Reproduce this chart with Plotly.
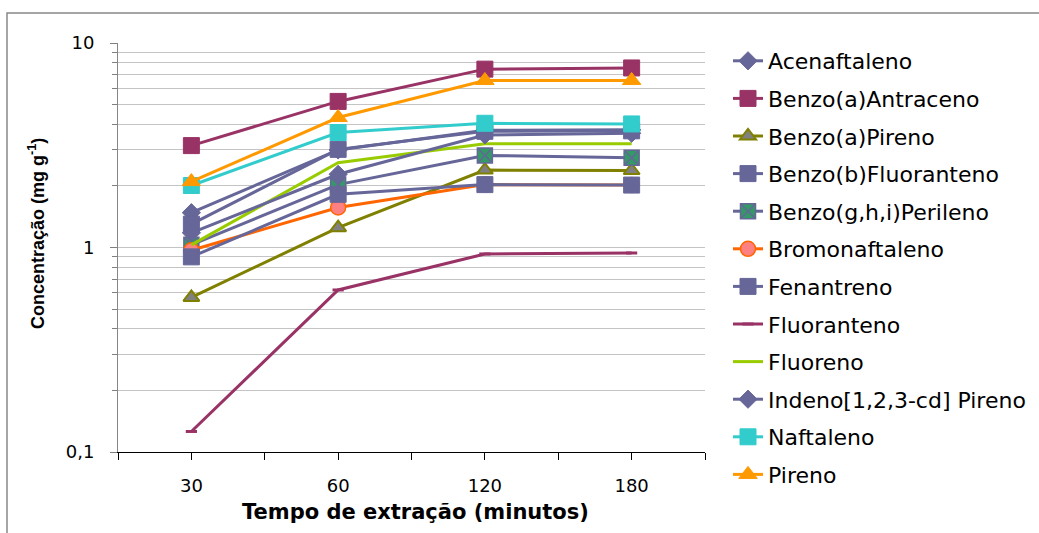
import plotly.graph_objects as go

categories = ["30", "60", "120", "180"]

acenaftaleno = [1.48, 3.00, 3.74, 3.76]
benzo_a_antraceno = [3.15, 5.18, 7.45, 7.55]
benzo_a_pireno = [0.57, 1.25, 2.39, 2.38]
benzo_b_fluoranteno = [1.30, 3.02, 3.70, 3.72]
benzo_ghi_perileno = [1.03, 2.03, 2.82, 2.75]
bromonaftaleno = [0.97, 1.57, 2.03, 2.02]
fenantreno = [0.90, 1.82, 2.03, 2.02]
fluoranteno = [0.126, 0.62, 0.93, 0.94]
fluoreno = [1.03, 2.60, 3.22, 3.22]
indeno = [1.18, 2.28, 3.55, 3.62]
naftaleno = [2.01, 3.65, 4.05, 4.02]
pireno = [2.10, 4.32, 6.56, 6.56]

xs = list(range(len(categories)))

PURPLE = "#666699"
series = [
    ("Acenaftaleno", acenaftaleno, PURPLE, dict(symbol="diamond", size=14, color=PURPLE, line=dict(color=PURPLE, width=1))),
    ("Benzo(a)Antraceno", benzo_a_antraceno, "#993366", dict(symbol="square", size=16, color="#993366", line=dict(color="#993366", width=1))),
    ("Benzo(a)Pireno", benzo_a_pireno, "#808000", dict(symbol="triangle-up", size=14, color="#808080", line=dict(color="#808000", width=2))),
    ("Benzo(b)Fluoranteno", benzo_b_fluoranteno, PURPLE, dict(symbol="square", size=16, color=PURPLE, line=dict(color=PURPLE, width=1))),
    ("Benzo(g,h,i)Perileno", benzo_ghi_perileno, PURPLE, dict(symbol="square-x", size=15, color="#339966", line=dict(color=PURPLE, width=1.5))),
    ("Bromonaftaleno", bromonaftaleno, "#FF6600", dict(symbol="circle", size=15, color="#FF8080", line=dict(color="#FF6600", width=1.5))),
    ("Fenantreno", fenantreno, PURPLE, dict(symbol="square", size=16, color=PURPLE, line=dict(color=PURPLE, width=1))),
    ("Fluoranteno", fluoranteno, "#993366", dict(symbol="line-ew", size=8, color="#993366", line=dict(color="#993366", width=3))),
    ("Fluoreno", fluoreno, "#99CC00", None),
    ("Indeno[1,2,3-cd] Pireno", indeno, PURPLE, dict(symbol="diamond", size=14, color=PURPLE, line=dict(color=PURPLE, width=1))),
    ("Naftaleno", naftaleno, "#33CCCC", dict(symbol="square", size=16, color="#33CCCC", line=dict(color="#33CCCC", width=1))),
    ("Pireno", pireno, "#FF9900", dict(symbol="triangle-up", size=16, color="#FF9900", line=dict(color="#FF9900", width=1))),
]

fig = go.Figure()
for i, (name, vals, col, mk) in enumerate(series):
    kw = dict(x=xs, y=vals, name=name, legendgroup=f"g{i}",
              line=dict(color=col, width=3))
    if mk is None:
        kw["mode"] = "lines"
    else:
        kw["mode"] = "lines+markers"
        kw["marker"] = mk
    fig.add_trace(go.Scatter(**kw))

y_minor = [0.2, 0.3, 0.4, 0.5, 0.6, 0.7, 0.8, 0.9, 2, 3, 4, 5, 6, 7, 8, 9]
x_minor = [-0.5, 0.5, 1.5, 2.5, 3.5]

L, R, T, B = 118, 705, 43, 452
W, H = 1039, 533
pw, ph = R - L, B - T

def px(xp):
    return (xp - L) / pw

def py(yp):
    return (B - yp) / ph

fig.update_layout(
    width=W, height=H,
    margin=dict(l=L, r=W - R, t=T, b=H - B, autoexpand=False),
    paper_bgcolor="white", plot_bgcolor="white",
    font=dict(family="DejaVu Sans", color="black"),
    showlegend=True,
    legend=dict(x=px(728), y=py(40), xanchor="left", yanchor="top",
                font=dict(family="DejaVu Sans", size=22, color="black"),
                tracegroupgap=6, bgcolor="rgba(0,0,0,0)", maxheight=520),
    xaxis=dict(range=[-0.5, 3.5], tickvals=xs, ticktext=categories,
               ticks="outside", ticklen=7, tickcolor="black", tickwidth=1,
               showline=True, linecolor="black", linewidth=1,
               showgrid=False, zeroline=False,
               tickfont=dict(family="DejaVu Sans", size=18, color="black"),
               ticklabelstandoff=10,
               minor=dict(tickvals=x_minor, ticks="outside", ticklen=7,
                          tickcolor="black", tickwidth=1, showgrid=False)),
    yaxis=dict(type="log", range=[-1, 1], tickvals=[0.1, 1, 10],
               ticktext=["0,1", "1", "10"],
               ticks="outside", ticklen=7, tickcolor="#808080", tickwidth=1,
               showline=True, linecolor="#868686", linewidth=1,
               showgrid=True, gridcolor="#C4C4C4", gridwidth=1, zeroline=False,
               tickfont=dict(family="DejaVu Sans", size=18, color="black"),
               ticklabelstandoff=12,
               minor=dict(tickvals=y_minor, ticks="outside", ticklen=5,
                          tickcolor="#808080", tickwidth=1, showgrid=True,
                          gridcolor="#C4C4C4", gridwidth=1)),
    shapes=[dict(type="rect", xref="paper", yref="paper",
                 x0=px(7), x1=px(1060), y0=py(560), y1=py(13),
                 line=dict(color="#888888", width=1.5), fillcolor="rgba(0,0,0,0)",
                 layer="below")],
    annotations=[
        dict(text="<b>Tempo de extração (minutos)</b>", xref="paper", yref="paper",
             x=px(416), y=py(512), xanchor="center", yanchor="middle", showarrow=False,
             font=dict(family="DejaVu Sans", size=21, color="black")),
        dict(text="<b>Concentração (mg g<sup>-1</sup>)</b>", xref="paper", yref="paper",
             x=px(36), y=py(234), xanchor="center", yanchor="middle", showarrow=False,
             textangle=-90,
             font=dict(family="Liberation Sans", size=18, color="black")),
    ],
)

fig.write_html("out.html")
